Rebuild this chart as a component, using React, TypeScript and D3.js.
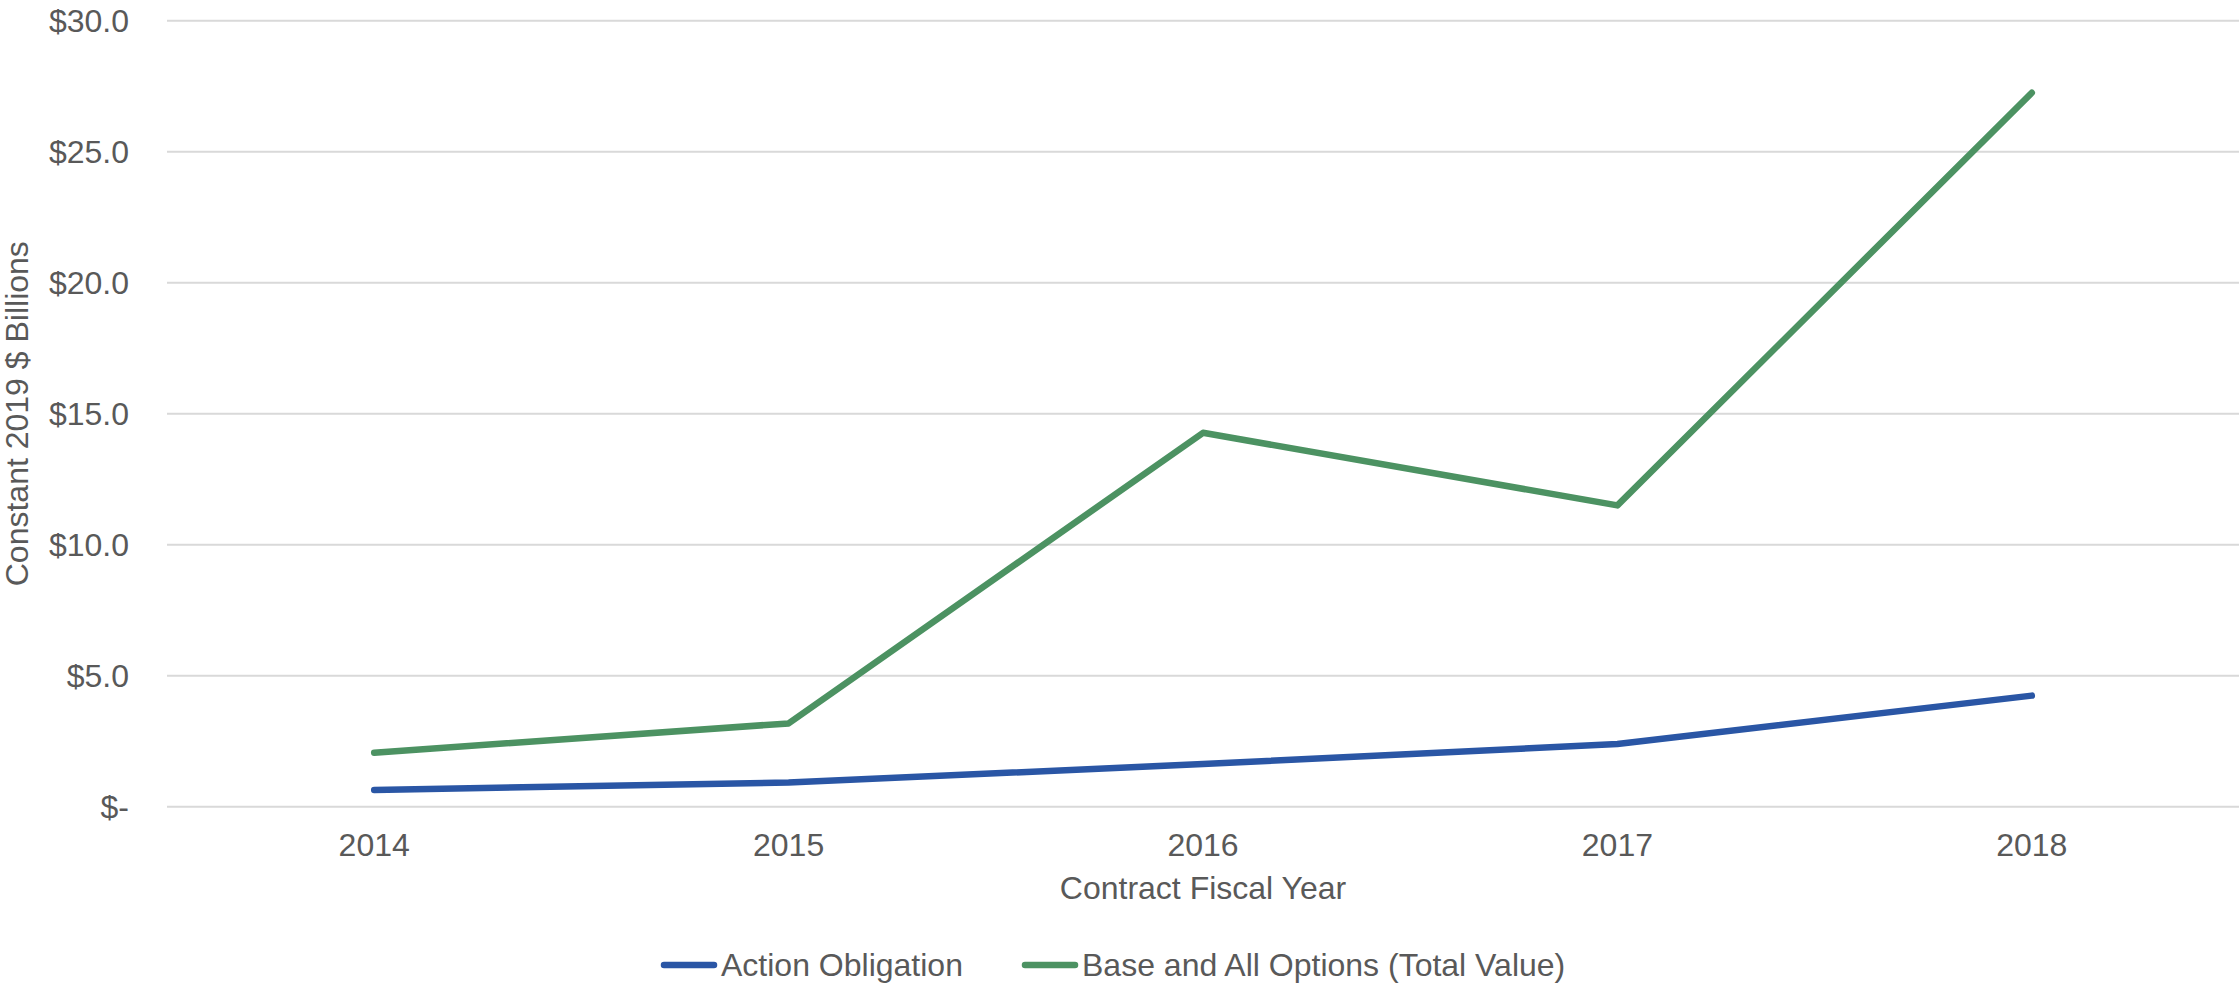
import { useEffect } from 'react';
import * as d3 from 'd3';

const years = ['2014', '2015', '2016', '2017', '2018'];
const actionObligation = [0.64, 0.92, 1.63, 2.39, 4.24];
const baseAndAllOptions = [2.06, 3.18, 14.27, 11.5, 27.25];
const yTicks = [0, 5, 10, 15, 20, 25, 30];

const seriesList = [
  { name: 'Action Obligation', values: actionObligation, color: '#2A56A5' },
  { name: 'Base and All Options (Total Value)', values: baseAndAllOptions, color: '#4C9262' },
];

const W = 2239;
const H = 984;
const left = 167;
const right = 2239;
const top = 20.7;
const bottom = 806.7;
const font = 'Liberation Sans, Arial, sans-serif';
const textColor = '#595959';
const fs = 32;

const fmt = (v: number) => (v === 0 ? '$-' : `$${v.toFixed(1)}`);

export default function App() {
  useEffect(() => {
    document.body.style.margin = '0';
  }, []);

  const x = d3.scalePoint<string>().domain(years).range([left, right]).padding(0.5);
  const y = d3.scaleLinear().domain([0, 30]).range([bottom, top]);

  const line = d3
    .line<number>()
    .x((_, i) => x(years[i]) as number)
    .y((d) => y(d));

  return (
    <svg width={W} height={H} style={{ display: 'block', position: 'absolute', left: 0, top: 0 }} fontFamily={font}>
      {/* Gridlines */}
      {yTicks.map((t) => (
        <line key={t} x1={left} x2={right} y1={y(t)} y2={y(t)} stroke="#D9D9D9" strokeWidth={2} />
      ))}

      {/* Y tick labels */}
      {yTicks.map((t) => (
        <text key={t} x={129} y={y(t)} dy="0.35em" textAnchor="end" fontSize={fs} fill={textColor}>
          {fmt(t)}
        </text>
      ))}

      {/* X tick labels */}
      {years.map((yr) => (
        <text key={yr} x={x(yr)} y={845} dy="0.35em" textAnchor="middle" fontSize={fs} fill={textColor}>
          {yr}
        </text>
      ))}

      {/* Axis titles */}
      <text x={(left + right) / 2} y={888} dy="0.35em" textAnchor="middle" fontSize={fs} fill={textColor}>
        Contract Fiscal Year
      </text>
      <text
        transform={`translate(17, ${(top + bottom) / 2}) rotate(-90)`}
        dy="0.35em"
        textAnchor="middle"
        fontSize={fs}
        fill={textColor}
      >
        Constant 2019 $ Billions
      </text>

      {/* Lines */}
      {seriesList.map((s) => (
        <path
          key={s.name}
          d={line(s.values) ?? ''}
          fill="none"
          stroke={s.color}
          strokeWidth={6.5}
          strokeLinecap="round"
          strokeLinejoin="round"
        />
      ))}

      {/* Legend */}
      {seriesList.map((s, i) => {
        const lx = i === 0 ? 664 : 1025;
        return (
          <g key={s.name} transform={`translate(${lx}, 965)`}>
            <line x1={0} x2={50} y1={0} y2={0} stroke={s.color} strokeWidth={6.5} strokeLinecap="round" />
            <text x={57} y={0} dy="0.35em" fontSize={fs} fill={textColor}>
              {s.name}
            </text>
          </g>
        );
      })}
    </svg>
  );
}
